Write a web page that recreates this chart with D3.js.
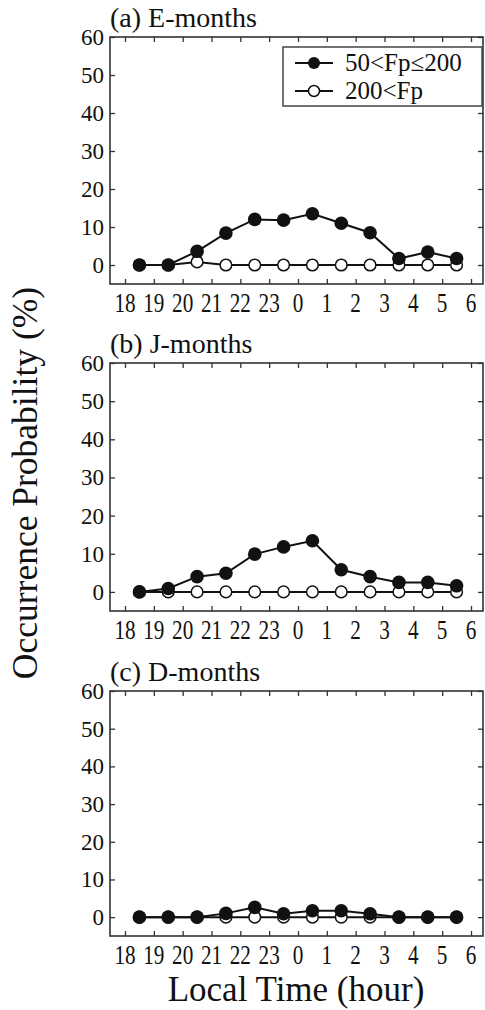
<!DOCTYPE html>
<html>
<head>
<meta charset="utf-8">
<script src="https://cdn.jsdelivr.net/npm/d3@7"></script>
<style>
  body { margin: 0; background: #fff; }
  svg { display: block; }
</style>
</head>
<body>
<svg id="chart" width="485" height="1010"></svg>
<script>
// half-hour bin centres, 18.5 LT .. 5.5 LT (hours after midnight + 24)
var hours = [18.5, 19.5, 20.5, 21.5, 22.5, 23.5, 24.5, 25.5, 26.5, 27.5, 28.5, 29.5];
var xTicks = [18, 19, 20, 21, 22, 23, 24, 25, 26, 27, 28, 29, 30];
var xTickLabels = ["18", "19", "20", "21", "22", "23", "0", "1", "2", "3", "4", "5", "6"];
var yTicks = [0, 10, 20, 30, 40, 50, 60];

var panelTitles = ["(a) E-months", "(b) J-months", "(c) D-months"];
var seriesNames = ["50<Fp\u2264200", "200<Fp"];

// 50<Fp<=200
var eLow = [0, 0, 3.6, 8.4, 12.0, 11.8, 13.5, 11.0, 8.5, 1.7, 3.4, 1.7];
var jLow = [0, 0.9, 4.0, 4.9, 9.9, 11.8, 13.4, 5.8, 4.0, 2.5, 2.5, 1.6];
var dLow = [0, 0, 0, 1.0, 2.6, 0.9, 1.7, 1.7, 0.9, 0, 0, 0];
// 200<Fp
var eHigh = [0, 0, 0.8, 0, 0, 0, 0, 0, 0, 0, 0, 0];
var jHigh = [0, 0, 0, 0, 0, 0, 0, 0, 0, 0, 0, 0];
var dHigh = [0, 0, 0, 0, 0, 0, 0, 0, 0, 0, 0, 0];

var lows = [eLow, jLow, dLow];
var highs = [eHigh, jHigh, dHigh];

var FONT = "Liberation Serif";
var svg = d3.select("#chart");

var left = 110, right = 483;
var panelTops = [37, 363, 691];
var panelBottoms = [284, 611, 936];

var x = d3.scaleLinear().domain([18, 30]).range([125, 471]);

function label(g, px, py, str, size, sx, anchor) {
    return g.append("text")
        .attr("transform", "translate(" + px + "," + py + ")" + (sx !== 1 ? " scale(" + sx + ",1)" : ""))
        .attr("text-anchor", anchor || "start")
        .attr("font-family", FONT)
        .attr("font-size", size)
        .attr("fill", "#111")
        .text(str);
}

panelTitles.forEach(function(title, p) {
    var top = panelTops[p], bottom = panelBottoms[p];
    var y = d3.scaleLinear().domain([-5, 60]).range([bottom, top]);
    var g = svg.append("g");

    // ticks, all pointing inward
    var tickStyle = function(a) {
        a.select(".domain").remove();
        a.selectAll("line").attr("stroke", "#333").attr("stroke-width", 1.3);
    };
    g.append("g").attr("transform", "translate(0," + bottom + ")")
        .call(d3.axisBottom(x).tickValues(xTicks).tickSize(-5).tickFormat(""))
        .call(tickStyle);
    g.append("g").attr("transform", "translate(0," + top + ")")
        .call(d3.axisTop(x).tickValues(xTicks).tickSize(-5).tickFormat(""))
        .call(tickStyle);
    g.append("g").attr("transform", "translate(" + left + ",0)")
        .call(d3.axisLeft(y).tickValues(yTicks).tickSize(-5).tickFormat(""))
        .call(tickStyle);
    g.append("g").attr("transform", "translate(" + right + ",0)")
        .call(d3.axisRight(y).tickValues(yTicks).tickSize(-5).tickFormat(""))
        .call(tickStyle);

    g.append("rect")
        .attr("x", left).attr("y", top)
        .attr("width", right - left).attr("height", bottom - top)
        .attr("fill", "none").attr("stroke", "#333").attr("stroke-width", 1.6);

    // tick labels
    yTicks.forEach(function(v) {
        label(g, 104, y(v) + 8, String(v), 23, 1, "end");
    });
    xTicks.forEach(function(v, i) {
        label(g, x(v), bottom + 28, xTickLabels[i], 26.5, 0.8, "middle");
    });

    label(g, left, top - 10, title, 28, 1, "start");

    var line = d3.line()
        .x(function(d, i) { return x(hours[i]); })
        .y(function(d) { return y(d); });

    // open markers first, filled on top
    g.append("path").datum(highs[p])
        .attr("d", line).attr("fill", "none")
        .attr("stroke", "#111").attr("stroke-width", 2);
    g.selectAll(".open").data(highs[p]).enter().append("circle")
        .attr("class", "open")
        .attr("cx", function(d, i) { return x(hours[i]); })
        .attr("cy", function(d) { return y(d); })
        .attr("r", 5.8)
        .attr("fill", "#fff").attr("stroke", "#111").attr("stroke-width", 1.5);

    g.append("path").datum(lows[p])
        .attr("d", line).attr("fill", "none")
        .attr("stroke", "#111").attr("stroke-width", 2);
    g.selectAll(".filled").data(lows[p]).enter().append("circle")
        .attr("class", "filled")
        .attr("cx", function(d, i) { return x(hours[i]); })
        .attr("cy", function(d) { return y(d); })
        .attr("r", 6.8)
        .attr("fill", "#111");
});

// legend in panel (a)
var lg = svg.append("g");
lg.append("rect")
    .attr("x", 283).attr("y", 47).attr("width", 199).attr("height", 59)
    .attr("fill", "#fff").attr("stroke", "#444").attr("stroke-width", 1.5);
seriesNames.forEach(function(name, i) {
    var ly = 63 + i * 28;
    lg.append("line")
        .attr("x1", 295).attr("x2", 333).attr("y1", ly).attr("y2", ly)
        .attr("stroke", "#111").attr("stroke-width", 2);
    lg.append("circle")
        .attr("cx", 314).attr("cy", ly)
        .attr("r", i === 0 ? 6 : 5.5)
        .attr("fill", i === 0 ? "#111" : "#fff")
        .attr("stroke", "#111").attr("stroke-width", i === 0 ? 0 : 1.5);
    label(lg, 345, ly + 8, name, 25, 1, "start");
});

// axis titles
label(svg, 296, 1001, "Local Time (hour)", 35, 1, "middle");
svg.append("text")
    .attr("transform", "translate(37,483) rotate(-90)")
    .attr("text-anchor", "middle")
    .attr("font-family", FONT)
    .attr("font-size", 35.5)
    .attr("fill", "#111")
    .text("Occurrence Probability (%)");
</script>
</body>
</html>
